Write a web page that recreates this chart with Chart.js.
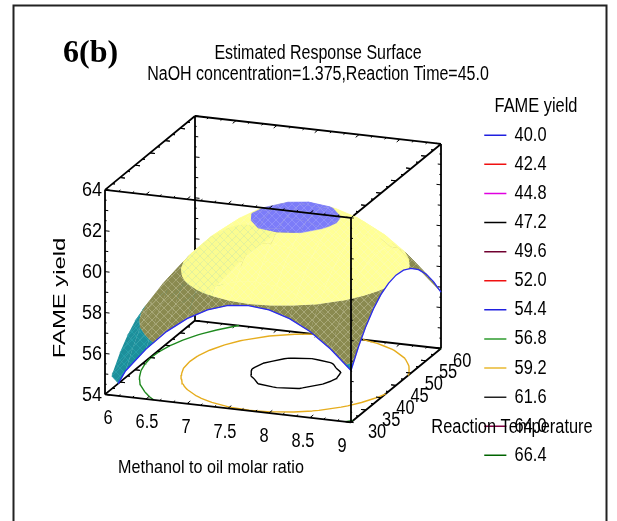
<!DOCTYPE html>
<html>
<head>
<meta charset="utf-8">
<title>Estimated Response Surface</title>
<script src="https://cdn.jsdelivr.net/npm/chart.js@4"></script>
<style>
  html, body { margin: 0; padding: 0; background: #fff; }
  canvas { display: block; }
</style>
</head>
<body>
<canvas id="chart" width="617" height="521"></canvas>
<script>
const methanol = [6, 6.25, 6.5, 6.75, 7, 7.25, 7.5, 7.75, 8, 8.25, 8.5, 8.75, 9];
const temperature = [30, 32.5, 35, 37.5, 40, 42.5, 45, 47.5, 50, 52.5, 55, 57.5, 60];

// yield, one row per temperature
const yield30 = [53.40, 55.26, 56.44, 57.41, 58.16, 58.70, 59.03, 59.14, 59.04, 58.73, 58.21, 57.47, 56.53];
const yield32 = [54.73, 56.12, 57.30, 58.27, 59.02, 59.56, 59.89, 60.00, 59.90, 59.59, 59.07, 58.33, 57.39];
const yield35 = [55.44, 56.83, 58.01, 58.98, 59.73, 60.27, 60.60, 60.71, 60.61, 60.30, 59.78, 59.04, 58.10];
const yield37 = [55.99, 57.38, 58.56, 59.53, 60.28, 60.82, 61.15, 61.26, 61.16, 60.85, 60.33, 59.59, 58.65];
const yield40 = [56.39, 57.78, 58.96, 59.93, 60.68, 61.22, 61.60, 61.72, 61.61, 61.25, 60.73, 59.99, 59.05];
const yield42 = [56.63, 58.02, 59.20, 60.17, 60.92, 61.50, 61.85, 61.96, 61.86, 61.53, 60.97, 60.23, 59.29];
const yield45 = [56.73, 58.12, 59.30, 60.27, 61.02, 61.62, 61.95, 62.06, 61.96, 61.65, 61.07, 60.33, 59.39];
const yield47 = [56.67, 58.06, 59.24, 60.21, 60.96, 61.55, 61.89, 62.00, 61.90, 61.58, 61.01, 60.27, 59.33];
const yield50 = [56.46, 57.85, 59.03, 60.00, 60.75, 61.29, 61.67, 61.79, 61.68, 61.32, 60.80, 60.06, 59.12];
const yield52 = [56.10, 57.49, 58.67, 59.64, 60.39, 60.93, 61.26, 61.37, 61.27, 60.96, 60.44, 59.70, 58.76];
const yield55 = [55.58, 56.97, 58.15, 59.12, 59.87, 60.41, 60.74, 60.85, 60.75, 60.44, 59.92, 59.18, 58.24];
const yield57 = [54.91, 56.30, 57.48, 58.45, 59.20, 59.74, 60.07, 60.18, 60.08, 59.77, 59.25, 58.51, 57.57];
const yield60 = [54.09, 55.48, 56.66, 57.63, 58.38, 58.92, 59.25, 59.36, 59.26, 58.95, 58.43, 57.69, 56.75];
const yieldRows = [yield30, yield32, yield35, yield37, yield40, yield42, yield45, yield47, yield50, yield52, yield55, yield57, yield60];

const methanolLabels = ['6', '6.5', '7', '7.5', '8', '8.5', '9'];
const temperatureLabels = ['30', '35', '40', '45', '50', '55', '60'];
const yieldLabels = ['54', '56', '58', '60', '62', '64'];

const legendLevels = ['40.0', '42.4', '44.8', '47.2', '49.6', '52.0', '54.4', '56.8', '59.2', '61.6', '64.0', '66.4'];
const legendColors = ['#2020e0', '#f01010', '#e000e0', '#000000', '#700030', '#f01010', '#2020e0', '#2e9b2e', '#e8b830', '#222222', '#800040', '#006400'];
const contourLevels = [56.8, 59.2, 61.6];
const contourColors = ['#1f8a1f', '#e6ad1e', '#000000'];

const sans = '"Liberation Sans", Arial, sans-serif';
const squeeze = 0.82; // the reference text is horizontally condensed

// fixed view of the box, values to canvas pixels
function project(m, t, z) {
  const a = (m - 6) / 3, b = (t - 30) / 30, c = (z - 54) / 10;
  return { x: 105 + 246 * a + 90 * b, y: 395 + 28 * a - 74 * b - 205 * c };
}
function gridPoint(i, j) {
  return { m: methanol[i], t: temperature[j], z: yieldRows[j][i] };
}
function cut(p, q, f) {
  const s = f(p) / (f(p) - f(q));
  return { m: p.m + (q.m - p.m) * s, t: p.t + (q.t - p.t) * s, z: p.z + (q.z - p.z) * s };
}
// keep the part of a polygon where f is not negative
function clipPoly(poly, f) {
  const out = [];
  poly.forEach((p, k) => {
    const q = poly[(k + 1) % poly.length];
    const pIn = f(p) >= 0, qIn = f(q) >= 0;
    if (pIn) out.push(p);
    if (pIn !== qIn) out.push(cut(p, q, f));
  });
  return out;
}
function hatch(base, line) {
  const c = document.createElement('canvas');
  c.width = c.height = 8;
  const g = c.getContext('2d');
  g.fillStyle = base;
  g.fillRect(0, 0, 8, 8);
  g.strokeStyle = line;
  g.lineWidth = 0.7;
  g.beginPath();
  g.moveTo(0, 8); g.lineTo(8, 0);
  g.moveTo(0, 0); g.lineTo(8, 8);
  g.stroke();
  return g.createPattern(c, 'repeat');
}

const surfaceFloor = 54.6;
const bands = [
  { lo: surfaceFloor, hi: 56.8, color: '#1d8f9b', fill: hatch('#1d8f9b', '#2aa5ae') },
  { lo: 56.8, hi: 59.2, color: '#8a8a50', fill: hatch('#8a8a50', '#b4b48a') },
  { lo: 59.2, hi: 61.6, color: '#ffff96', fill: hatch('#ffff96', '#fbfbb4') },
  { lo: 61.6, hi: 70, color: '#7c7cf8', fill: hatch('#7c7cf8', '#9a9afa') }
];
const lensYellow = hatch('#fbfc90', '#d8eca4');
const lensTop = p => 44 - (p.m - 6.9) * 5.9 - p.t;
const lensSide = p => 7.3 + (p.t - 33) * 0.075 - p.m;

function lineSet(points, color, width) {
  return { data: points, showLine: true, borderColor: color, borderWidth: width, pointRadius: 0, clip: false, fill: false };
}
function patchSet(poly, fill, edge, width) {
  return {
    data: poly.map(p => project(p.m, p.t, p.z)),
    showLine: true,
    fill: 'shape',
    backgroundColor: fill,
    borderColor: edge,
    borderWidth: width,
    pointRadius: 0,
    clip: false
  };
}
const gap = { x: NaN, y: NaN };

function boxEdges(list) {
  const pts = [];
  list.forEach(e => {
    pts.push(project(e[0], e[1], e[2]), project(e[3], e[4], e[5]), gap);
  });
  return pts;
}

function tickMarks(back) {
  const pts = [];
  const add = (m, t, z, dm, dt) => { pts.push(project(m, t, z), project(m + dm, t + dt, z), gap); };
  for (let k = 0; k <= 18; k++) {
    const m = 6 + k / 6, len = k % 3 === 0 ? 1.1 : 0.6;
    if (back) { add(m, 60, 54, 0, -len); add(m, 60, 64, 0, -len); }
    else { add(m, 30, 54, 0, len); add(m, 30, 64, 0, len); }
  }
  for (let k = 0; k <= 12; k++) {
    const t = 30 + k * 2.5, len = k % 2 === 0 ? 0.06 : 0.03;
    add(6, t, 54, len, 0); add(6, t, 64, len, 0);
    add(9, t, 54, -len, 0); add(9, t, 64, -len, 0);
  }
  for (let k = 0; k <= 20; k++) {
    const z = 54 + k * 0.5, len = k % 4 === 0 ? 0.055 : (k % 2 === 0 ? 0.04 : 0.02);
    if (back) { add(6, 60, z, len, 0); add(9, 60, z, -len, 0); }
    else { add(6, 30, z, len, 0); add(9, 30, z, len * 0.6, 0); }
  }
  return pts;
}

// contour lines on the floor of the box
function floorContours(level) {
  const pts = [];
  const f = p => p.z - level;
  for (let j = 0; j < temperature.length - 1; j++) {
    for (let i = 0; i < methanol.length - 1; i++) {
      const a = gridPoint(i, j), b = gridPoint(i + 1, j), c = gridPoint(i + 1, j + 1), d = gridPoint(i, j + 1);
      [[a, b, c], [a, c, d]].forEach(tri => {
        const hits = [];
        tri.forEach((p, k) => {
          const q = tri[(k + 1) % 3];
          if ((f(p) >= 0) !== (f(q) >= 0)) hits.push(cut(p, q, f));
        });
        if (hits.length === 2) pts.push(project(hits[0].m, hits[0].t, 54), project(hits[1].m, hits[1].t, 54), gap);
      });
    }
  }
  return pts;
}

function surfaceEdge(points) {
  const pts = [];
  const f = p => p.z - surfaceFloor;
  for (let k = 0; k < points.length - 1; k++) {
    const p = points[k], q = points[k + 1];
    if (f(p) < 0 && f(q) < 0) continue;
    const s = f(p) < 0 ? cut(p, q, f) : p;
    const e = f(q) < 0 ? cut(p, q, f) : q;
    pts.push(project(s.m, s.t, s.z), project(e.m, e.t, e.z));
  }
  return pts;
}

// painter's order, far things first
const painter = [];
painter.push(lineSet(boxEdges([
  [6, 60, 54, 9, 60, 54], [6, 30, 54, 6, 60, 54], [9, 30, 54, 9, 60, 54],
  [6, 60, 54, 6, 60, 64], [9, 60, 54, 9, 60, 64],
  [6, 60, 64, 9, 60, 64], [6, 30, 64, 6, 60, 64], [9, 30, 64, 9, 60, 64]
]), '#000', 1.8));
painter.push(lineSet(tickMarks(true), '#000', 1));
contourLevels.forEach((level, n) => painter.push(lineSet(floorContours(level), contourColors[n], 1.4)));

for (let j = temperature.length - 2; j >= 0; j--) {
  for (let i = 0; i < methanol.length - 1; i++) {
    const cell = [gridPoint(i, j), gridPoint(i + 1, j), gridPoint(i + 1, j + 1), gridPoint(i, j + 1)];
    bands.forEach(band => {
      let part = clipPoly(cell, p => p.z - band.lo);
      if (part.length) part = clipPoly(part, p => band.hi - p.z);
      if (part.length < 3) return;
      painter.push(patchSet(part, band.fill, band.color, 0.4));
      if (band.lo !== 59.2) return;
      // the paler cross-hatched patch on the left of the dome
      let lens = clipPoly(part, lensTop);
      if (lens.length) lens = clipPoly(lens, lensSide);
      if (lens.length > 2) painter.push(patchSet(lens, lensYellow, '#fbfc90', 0.2));
    });
  }
}

painter.push(lineSet(surfaceEdge(methanol.map((m, i) => gridPoint(i, 0))), '#2a2af0', 1.3));
painter.push(lineSet(surfaceEdge(temperature.map((t, j) => gridPoint(methanol.length - 1, j))), '#2a2af0', 1.3));
painter.push(lineSet(boxEdges([
  [6, 30, 54, 9, 30, 54], [6, 30, 64, 9, 30, 64],
  [6, 30, 54, 6, 30, 64], [9, 30, 54, 9, 30, 64]
]), '#000', 1.8));
painter.push(lineSet(tickMarks(false), '#000', 1));

// chart.js paints the last dataset first
const datasets = painter.reverse();

function squeezedText(ctx, text, x, y, size, align, amount) {
  ctx.save();
  ctx.translate(x, y);
  ctx.scale(amount || squeeze, 1);
  ctx.textAlign = align;
  ctx.font = size + 'px ' + sans;
  ctx.fillText(text, 0, 0);
  ctx.restore();
}

const annotations = {
  id: 'annotations',
  beforeDraw(chart) {
    const ctx = chart.ctx;
    ctx.save();
    ctx.strokeStyle = '#222';
    ctx.lineWidth = 2;
    ctx.strokeRect(13.5, 5.5, 593, 540);
    ctx.restore();
  },
  afterDraw(chart) {
    const ctx = chart.ctx;
    ctx.save();
    ctx.fillStyle = '#000';
    ctx.textBaseline = 'middle';

    ctx.textAlign = 'left';
    ctx.font = 'bold 32px "Liberation Serif", serif';
    ctx.fillText('6(b)', 63, 54);

    squeezedText(ctx, 'FAME yield', 536, 106, 20, 'center');
    squeezedText(ctx, 'Reaction Temperature', 512, 427, 20, 'center');
    squeezedText(ctx, 'Methanol to oil molar ratio', 211, 468, 19, 'center', 0.85);

    methanolLabels.forEach((label, k) => {
      const p = project(+label, 30, 54);
      squeezedText(ctx, label, p.x + 3 - 2 * k, p.y + 23, 20, 'center');
    });
    temperatureLabels.forEach((label, k) => {
      const p = project(9, +label, 54);
      squeezedText(ctx, label, p.x + 26 - 0.8 * k, p.y + 9 + 0.5 * k, 20, 'center');
    });
    yieldLabels.forEach(label => {
      const p = project(6, 30, +label);
      squeezedText(ctx, label, p.x - 3, p.y, 20, 'right', 0.9);
    });

    // the rotated axis title is stretched along its length
    ctx.translate(60, 298);
    ctx.rotate(-Math.PI / 2);
    ctx.scale(1.4, 1);
    ctx.textAlign = 'center';
    ctx.font = '17px ' + sans;
    ctx.fillText('FAME yield', 0, 0);
    ctx.restore();
  }
};

const chart = new Chart(document.getElementById('chart'), {
  type: 'scatter',
  data: { datasets: datasets },
  plugins: [annotations],
  options: {
    responsive: false,
    animation: false,
    events: [],
    layout: { padding: { left: 66, right: 47 } },
    scales: {
      x: { type: 'linear', display: false, min: 0, max: 617 },
      y: { type: 'linear', display: false, reverse: true, min: 0, max: 521 }
    },
    plugins: {
      tooltip: { enabled: false },
      title: {
        display: true,
        text: ['Estimated Response Surface', 'NaOH concentration=1.375,Reaction Time=45.0'],
        color: '#000',
        font: { family: sans, size: 19.5, weight: 'normal', lineHeight: 1.03 },
        padding: { top: 44, bottom: 32 }
      },
      legend: {
        position: 'right',
        align: 'start',
        fullSize: false,
        labels: {
          color: '#000',
          font: { family: sans, size: 20 },
          padding: 9.1,
          usePointStyle: true,
          pointStyleWidth: 27,
          generateLabels: () => legendLevels.map((level, k) => ({
            text: level,
            strokeStyle: legendColors[k],
            fillStyle: legendColors[k],
            lineWidth: 1.5,
            pointStyle: 'line',
            datasetIndex: k
          }))
        }
      }
    }
  }
});

// title and legend share the condensed look of the other text
function condense(box, centerX) {
  const drawBox = box.draw.bind(box);
  box.draw = function (area) {
    const ctx = chart.ctx;
    ctx.save();
    ctx.translate(centerX, 0);
    ctx.scale(squeeze, 1);
    ctx.translate(-centerX, 0);
    drawBox(area);
    ctx.restore();
  };
}
condense(chart.titleBlock, 318);
condense(chart.legend, 485);

// make the hidden axes read in canvas pixels, so project() lands where intended
const area = chart.chartArea;
chart.options.scales.x.min = area.left;
chart.options.scales.x.max = area.right;
chart.options.scales.y.min = area.top;
chart.options.scales.y.max = area.bottom;
chart.update('none');
</script>
</body>
</html>
